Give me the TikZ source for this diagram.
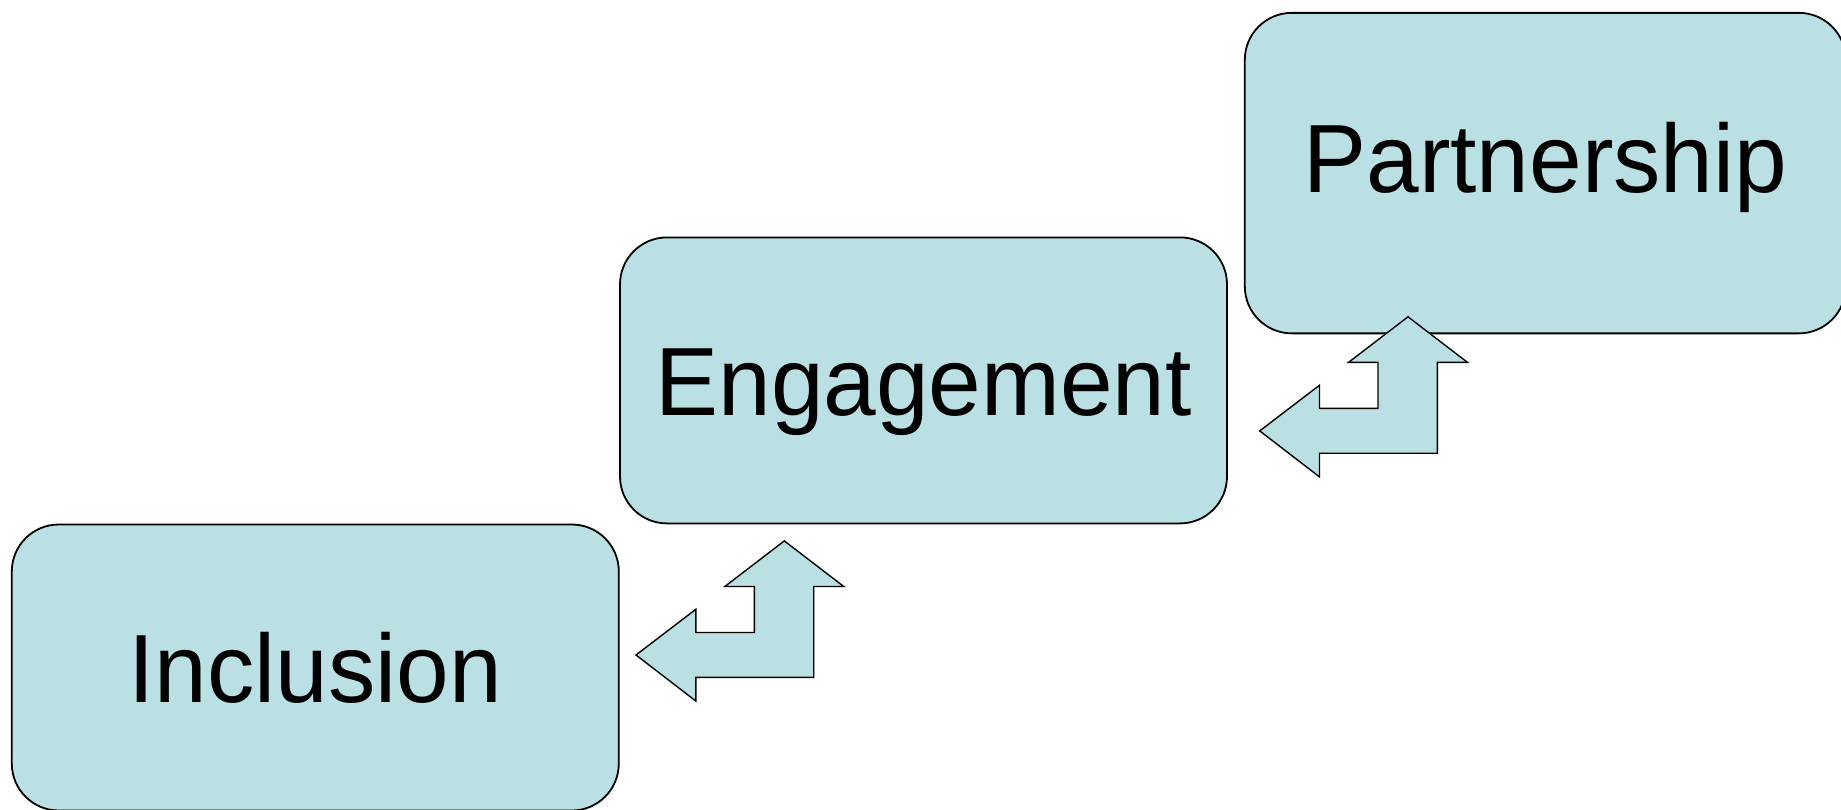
\documentclass[tikz,border=0pt]{standalone}
\usepackage{fontspec}
\setmainfont{Liberation Sans}[FakeStretch=0.975]
\definecolor{stagefill}{RGB}{187,224,227}
\tikzset{
  stage/.style={draw, fill=stagefill, rounded corners=47pt, line width=1.8pt,
    minimum width=607pt, minimum height=286pt, inner sep=0pt,
    font=\fontsize{97}{100}\selectfont, text height=69.5pt, text depth=0pt},
  twoway/.style={draw, fill=stagefill, line width=1.4pt, line join=miter}
}
\begin{document}
\begin{tikzpicture}[x=1pt,y=-1pt]
	\useasboundingbox (0,0) rectangle (1841,809);
	\node[stage] (incl) at (315.3,667.5) {Inclusion};
	\node[stage] (eng) at (923.5,380.4) {Engagement};
	\node[stage, minimum width=601pt, minimum height=320.5pt, text depth=30pt] (part) at (1545.3,173.1) {Partnership};
	% bent two-way arrows between the steps
	\coordinate (a1) at (784.3,540.9);
	\coordinate (a2) at (1408.0,316.8);
	\foreach \p in {a1,a2}
		\draw[twoway, shift={(\p)}] (0,0) -- (59.5,45.6) -- (29.4,45.6) -- (29.4,136.4)
			-- (-88.5,136.4) -- (-88.5,160.1) -- (-148.3,114.1) -- (-88.5,68.4)
			-- (-88.5,91.6) -- (-30.0,91.6) -- (-30.0,45.6) -- (-59.5,45.6) -- cycle;
\end{tikzpicture}
\end{document}
